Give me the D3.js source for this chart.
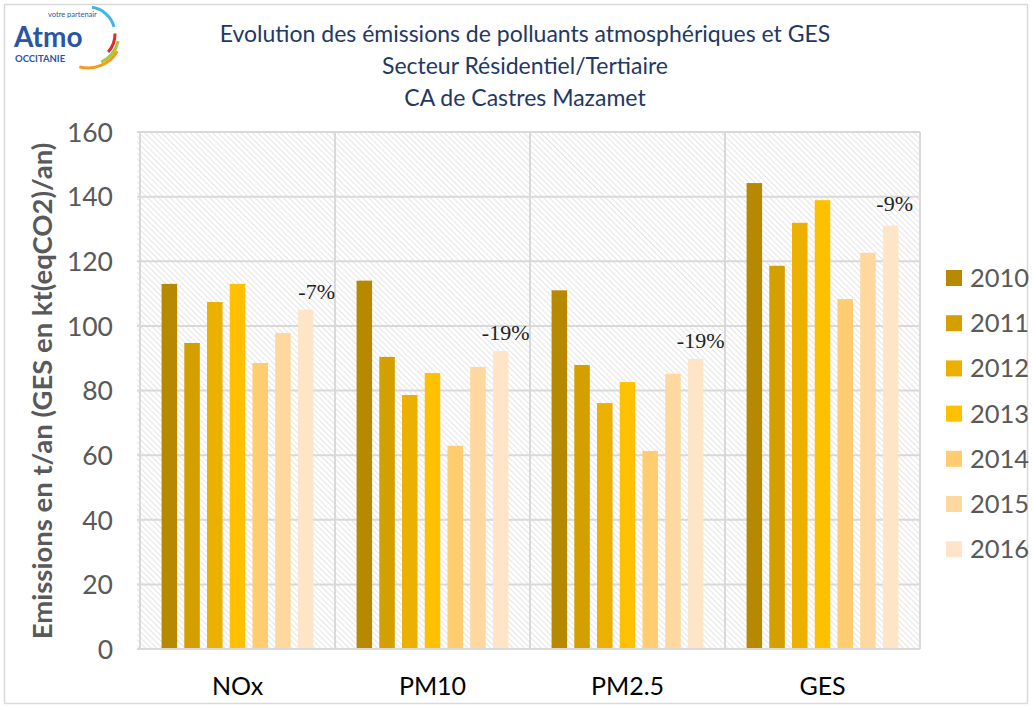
<!DOCTYPE html>
<html><head><meta charset="utf-8">
<script src="https://cdn.jsdelivr.net/npm/d3@7"></script>
<style>body{margin:0;background:#fff}svg{display:block}</style>
</head><body><div id="chart"></div>
<script>
const categories = ["NOx", "PM10", "PM2.5", "GES"];
const years = ["2010", "2011", "2012", "2013", "2014", "2015", "2016"];
const v2010 = [113, 114, 111, 144.2];
const v2011 = [94.7, 90.4, 87.9, 118.6];
const v2012 = [107.4, 78.6, 76.1, 131.9];
const v2013 = [113, 85.4, 82.6, 138.9];
const v2014 = [88.5, 62.9, 61.3, 108.3];
const v2015 = [97.8, 87.3, 85.2, 122.6];
const v2016 = [105, 92.2, 89.8, 131];
const changeLabels = ["-7%", "-19%", "-19%", "-9%"];
const yTicks = [0, 20, 40, 60, 80, 100, 120, 140, 160];
const colors = ["#B68900", "#D4A000", "#EBB000", "#FFC000", "#FFCC70", "#FFD8A0", "#FFE5C8"];
const titleLines = ["Evolution des émissions de polluants atmosphériques et GES", "Secteur Résidentiel/Tertiaire", "CA de Castres Mazamet"];
const yTitle = "Emissions en t/an (GES en kt(eqCO2)/an)";

const series = [v2010, v2011, v2012, v2013, v2014, v2015, v2016];
const W = 1032, H = 708;
const m = {left: 140, right: 920, top: 132, bottom: 649};

const svg = d3.select("#chart").append("svg").attr("width", W).attr("height", H);
svg.append("rect").attr("x", 4.5).attr("y", 4.5).attr("width", W - 9).attr("height", H - 9)
  .attr("fill", "#fff").attr("stroke", "#d9d9d9").attr("stroke-width", 1.5);

const defs = svg.append("defs");
const pat = defs.append("pattern").attr("id", "hatch").attr("patternUnits", "userSpaceOnUse")
  .attr("width", 4).attr("height", 4).attr("patternTransform", "rotate(-45)");
pat.append("rect").attr("width", 4).attr("height", 4).attr("fill", "#fff");
pat.append("line").attr("x1", 0).attr("y1", 0).attr("x2", 0).attr("y2", 4)
  .attr("stroke", "#dadada").attr("stroke-width", 1.4);

const x0 = d3.scaleBand().domain(categories).range([m.left, m.right]).paddingInner(0).paddingOuter(0);
const x1 = d3.scaleBand().domain(years).range([0, x0.bandwidth()]).paddingInner(0.317).paddingOuter(0.95);
const y = d3.scaleLinear().domain([0, 160]).range([m.bottom, m.top]);

// plot background
svg.append("rect").attr("x", m.left - 3).attr("y", m.top).attr("width", m.right - m.left + 3)
  .attr("height", m.bottom - m.top).attr("fill", "url(#hatch)");

// grid
svg.append("g").selectAll("line").data(yTicks).join("line")
  .attr("x1", m.left - 3).attr("x2", m.right).attr("y1", d => y(d)).attr("y2", d => y(d))
  .attr("stroke", "#d9d9d9").attr("stroke-width", 2);
const vlines = categories.map(c => x0(c)).concat([m.right]);
svg.append("g").selectAll("line").data(vlines).join("line")
  .attr("x1", d => d).attr("x2", d => d).attr("y1", m.top).attr("y2", m.bottom)
  .attr("stroke", "#d9d9d9").attr("stroke-width", 2);

// bars
const g = svg.append("g");
const labelDx = [11, 5, 5, 4];
const labelDy = [11, 11, 11, 15];
categories.forEach((c, ci) => {
  years.forEach((yr, yi) => {
    const val = series[yi][ci];
    g.append("rect").attr("x", x0(c) + x1(yr)).attr("width", x1.bandwidth())
      .attr("y", y(val)).attr("height", y(0) - y(val)).attr("fill", colors[yi]);
  });
  const last = years[years.length - 1];
  const v = v2016[ci];
  svg.append("text").attr("x", x0(c) + x1(last) + x1.bandwidth() / 2 + labelDx[ci])
    .attr("y", y(v) - labelDy[ci]).attr("text-anchor", "middle")
    .attr("font-family", "Liberation Serif, serif").attr("font-size", 22).attr("fill", "#222")
    .text(changeLabels[ci]);
});

// y axis
const yAxis = d3.axisLeft(y).tickValues(yTicks).tickSize(0).tickPadding(0);
const ya = svg.append("g").attr("transform", `translate(${113},0)`).call(yAxis);
ya.select(".domain").remove();
ya.selectAll("text").attr("font-family", "Lato, sans-serif").attr("font-size", 26.5).attr("fill", "#595959").attr("dy", "0.35em");

// x axis
const xAxis = d3.axisBottom(x0).tickSize(0).tickPadding(0);
const xa = svg.append("g").attr("transform", `translate(0,${677})`).call(xAxis);
xa.select(".domain").remove();
xa.selectAll("text").attr("font-family", "Lato, sans-serif").attr("font-size", 25).attr("fill", "#000").attr("dy", "0.71em");
svg.append("line").attr("x1", m.left - 3).attr("x2", m.right).attr("y1", m.bottom).attr("y2", m.bottom)
  .attr("stroke", "#d9d9d9").attr("stroke-width", 2);

// y title
svg.append("text").attr("transform", `translate(52,${391}) rotate(-90)`).attr("text-anchor", "middle")
  .attr("font-family", "Lato, sans-serif").attr("font-weight", "bold").attr("font-size", 27.5)
  .attr("fill", "#595959").text(yTitle);

// title
titleLines.forEach((t, i) => {
  svg.append("text").attr("x", 525).attr("y", 42 + i * 32).attr("text-anchor", "middle")
    .attr("font-family", "Lato, sans-serif").attr("font-size", 23).attr("fill", "#1F3864").text(t);
});

// legend
const lg = svg.append("g");
years.forEach((yr, i) => {
  const ly = 278 + i * 45.2;
  lg.append("rect").attr("x", 946).attr("y", ly - 8).attr("width", 16).attr("height", 16).attr("fill", colors[i]);
  lg.append("text").attr("x", 970).attr("y", ly).attr("dy", "0.35em")
    .attr("font-family", "Lato, sans-serif").attr("font-size", 25.5).attr("fill", "#595959").text(yr);
});

// logo
const logo = svg.append("g");
logo.append("text").attr("x", 14).attr("y", 47).attr("font-family", "Lato, sans-serif").attr("font-weight", "bold")
  .attr("font-size", 28).attr("fill", "#2B55A3").text("Atmo");
logo.append("text").attr("x", 15).attr("y", 62).attr("font-family", "Lato, sans-serif").attr("font-weight", "bold")
  .attr("font-size", 9.5).attr("fill", "#2B55A3").text("OCCITANIE");
logo.append("text").attr("x", 48).attr("y", 17).attr("font-family", "Lato, sans-serif")
  .attr("font-size", 7.5).attr("fill", "#2B55A3").text("votre partenair");
const arc = d3.arc();
const arcs = [
  {r: 27, s: 0.15, e: 1.3, c: "#3EB6E8"},
  {r: 27, s: 1.55, e: 2.3, c: "#E2282E"},
  {r: 31, s: 1.8, e: 2.7, c: "#A6C83A"},
  {r: 34, s: 2.1, e: 3.4, c: "#F39A1F"}
];
arcs.forEach(a => {
  logo.append("path").attr("transform", "translate(88,34)")
    .attr("d", arc({innerRadius: a.r - 1.5, outerRadius: a.r + 1.5, startAngle: a.s, endAngle: a.e}))
    .attr("fill", a.c);
});
</script></body></html>
